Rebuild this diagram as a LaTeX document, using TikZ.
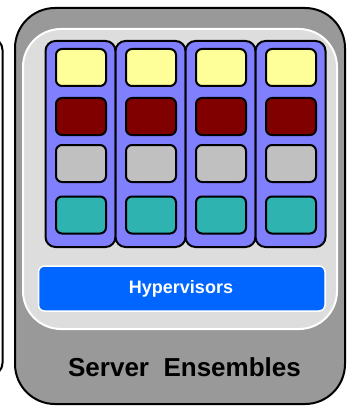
\documentclass[tikz,border=0pt]{standalone}
\usepackage{fontspec}
\setmainfont{Liberation Sans}
\usetikzlibrary{positioning}
\definecolor{shellgray}{HTML}{999999}
\definecolor{panelgray}{HTML}{DDDDDD}
\definecolor{vmblue}{HTML}{8080FF}
\definecolor{hypblue}{HTML}{0066FF}
\definecolor{vmyellow}{HTML}{FFFF99}
\definecolor{vmred}{HTML}{800000}
\definecolor{vmgray}{HTML}{C0C0C0}
\definecolor{vmteal}{HTML}{2FB3B0}
\tikzstyle{slot} = [draw=black, line width=2pt, rounded corners=6pt, minimum width=50pt, minimum height=37pt, inner sep=0pt]
\tikzstyle{column} = [draw=black, fill=vmblue, line width=2pt, rounded corners=10pt]

\begin{document}
\begin{tikzpicture}[x=1pt, y=-1pt]
                    \useasboundingbox (0, 0) rectangle (346, 409);
                    \begin{scope}
                    \clip (0, 0) rectangle (346, 409);
                    % neighbour box, mostly cut off
                    \filldraw[draw=black, fill=white, line width=2pt, rounded corners=12pt] (-60, 38) rectangle (2.5, 375);
                    \end{scope}
                    \filldraw[draw=black, fill=shellgray, line width=2pt, rounded corners=40pt] (15, 8) rectangle (345, 404);
                    \filldraw[draw=white, fill=panelgray, line width=2pt, rounded corners=38pt] (23, 29) rectangle (337, 329);
                    \foreach \i in {0,...,3} {
                        \filldraw[column] (45.5+70*\i, 41) rectangle (115.5+70*\i, 247);
                        \node[slot, fill=vmyellow] (s-\i-1) at (81+70*\i, 67.5) {};
                        \node[slot, fill=vmred]    (s-\i-2) at (81+70*\i, 116.5) {};
                        \node[slot, fill=vmgray]   (s-\i-3) at (81+70*\i, 163.5) {};
                        \node[slot, fill=vmteal]   (s-\i-4) at (81+70*\i, 215) {};
                    }
                    \filldraw[draw=white, fill=hypblue, line width=1.5pt, rounded corners=6pt] (38.5, 266) rectangle (325, 311);
                    \node[text=white, font=\fontsize{18}{20}\selectfont\bfseries] (hyp) at (181, 288.5) {Hypervisors};
                    \node[font=\fontsize{26}{29}\selectfont\bfseries] (title) at (184.5, 367) {Server\ \ Ensembles};
                \end{tikzpicture}
\end{document}
